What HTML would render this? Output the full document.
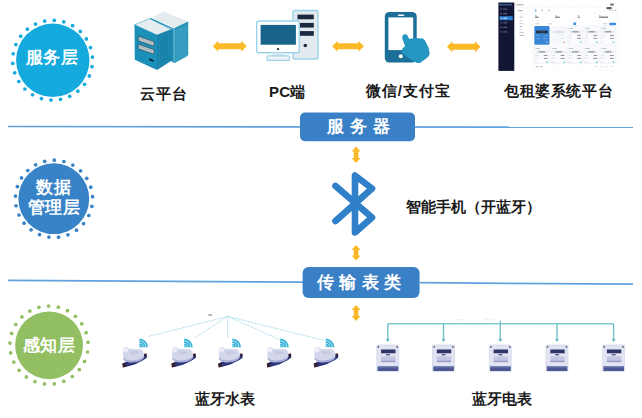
<!DOCTYPE html>
<html><head><meta charset="utf-8"><style>
html,body{margin:0;padding:0;background:#fff;}
body{width:642px;height:418px;position:relative;overflow:hidden;font-family:"Liberation Sans",sans-serif;}
.t{position:absolute;white-space:nowrap;line-height:1;}
.lbl{font-size:15px;font-weight:900;color:#1a1a1a;}
.cw{font-size:17px;font-weight:bold;color:#fff;text-align:center;}
.bx{font-size:17px;font-weight:bold;color:#fff;}
</style></head><body>
<svg width="642" height="418" style="position:absolute;left:0;top:0">
<circle cx="52.8" cy="60.3" r="36.7" fill="#14aade"/><circle cx="92.02" cy="66.66" r="1.85" fill="#14aade"/><circle cx="89.33" cy="75.90" r="1.85" fill="#14aade"/><circle cx="84.51" cy="84.24" r="1.85" fill="#14aade"/><circle cx="77.83" cy="91.18" r="1.85" fill="#14aade"/><circle cx="69.68" cy="96.31" r="1.85" fill="#14aade"/><circle cx="60.54" cy="99.35" r="1.85" fill="#14aade"/><circle cx="50.94" cy="100.12" r="1.85" fill="#14aade"/><circle cx="41.44" cy="98.56" r="1.85" fill="#14aade"/><circle cx="32.58" cy="94.77" r="1.85" fill="#14aade"/><circle cx="24.89" cy="88.98" r="1.85" fill="#14aade"/><circle cx="18.81" cy="81.51" r="1.85" fill="#14aade"/><circle cx="14.69" cy="72.81" r="1.85" fill="#14aade"/><circle cx="12.78" cy="63.37" r="1.85" fill="#14aade"/><circle cx="13.18" cy="53.74" r="1.85" fill="#14aade"/><circle cx="15.87" cy="44.50" r="1.85" fill="#14aade"/><circle cx="20.69" cy="36.16" r="1.85" fill="#14aade"/><circle cx="27.37" cy="29.22" r="1.85" fill="#14aade"/><circle cx="35.52" cy="24.09" r="1.85" fill="#14aade"/><circle cx="44.66" cy="21.05" r="1.85" fill="#14aade"/><circle cx="54.26" cy="20.28" r="1.85" fill="#14aade"/><circle cx="63.76" cy="21.84" r="1.85" fill="#14aade"/><circle cx="72.62" cy="25.63" r="1.85" fill="#14aade"/><circle cx="80.31" cy="31.42" r="1.85" fill="#14aade"/><circle cx="86.39" cy="38.89" r="1.85" fill="#14aade"/><circle cx="90.51" cy="47.59" r="1.85" fill="#14aade"/><circle cx="92.42" cy="57.03" r="1.85" fill="#14aade"/>
<circle cx="53.8" cy="198.7" r="35.4" fill="#3883c7"/><circle cx="91.86" cy="206.30" r="1.85" fill="#3883c7"/><circle cx="88.81" cy="215.48" r="1.85" fill="#3883c7"/><circle cx="83.57" cy="223.61" r="1.85" fill="#3883c7"/><circle cx="76.47" cy="230.19" r="1.85" fill="#3883c7"/><circle cx="67.96" cy="234.79" r="1.85" fill="#3883c7"/><circle cx="58.57" cy="237.13" r="1.85" fill="#3883c7"/><circle cx="48.89" cy="237.06" r="1.85" fill="#3883c7"/><circle cx="39.54" cy="234.59" r="1.85" fill="#3883c7"/><circle cx="31.09" cy="229.87" r="1.85" fill="#3883c7"/><circle cx="24.09" cy="223.20" r="1.85" fill="#3883c7"/><circle cx="18.96" cy="214.99" r="1.85" fill="#3883c7"/><circle cx="16.03" cy="205.77" r="1.85" fill="#3883c7"/><circle cx="15.49" cy="196.11" r="1.85" fill="#3883c7"/><circle cx="17.37" cy="186.62" r="1.85" fill="#3883c7"/><circle cx="21.55" cy="177.89" r="1.85" fill="#3883c7"/><circle cx="27.77" cy="170.48" r="1.85" fill="#3883c7"/><circle cx="35.64" cy="164.85" r="1.85" fill="#3883c7"/><circle cx="44.66" cy="161.35" r="1.85" fill="#3883c7"/><circle cx="54.27" cy="160.20" r="1.85" fill="#3883c7"/><circle cx="63.86" cy="161.48" r="1.85" fill="#3883c7"/><circle cx="72.83" cy="165.11" r="1.85" fill="#3883c7"/><circle cx="80.62" cy="170.85" r="1.85" fill="#3883c7"/><circle cx="86.73" cy="178.35" r="1.85" fill="#3883c7"/><circle cx="90.79" cy="187.13" r="1.85" fill="#3883c7"/><circle cx="92.54" cy="196.65" r="1.85" fill="#3883c7"/>
<circle cx="49.05" cy="345.3" r="33.9" fill="#91bf61"/><circle cx="87.48" cy="352.02" r="1.85" fill="#91bf61"/><circle cx="84.55" cy="361.38" r="1.85" fill="#91bf61"/><circle cx="79.39" cy="369.71" r="1.85" fill="#91bf61"/><circle cx="72.31" cy="376.49" r="1.85" fill="#91bf61"/><circle cx="63.77" cy="381.30" r="1.85" fill="#91bf61"/><circle cx="54.31" cy="383.84" r="1.85" fill="#91bf61"/><circle cx="44.51" cy="383.94" r="1.85" fill="#91bf61"/><circle cx="34.99" cy="381.60" r="1.85" fill="#91bf61"/><circle cx="26.35" cy="376.97" r="1.85" fill="#91bf61"/><circle cx="19.14" cy="370.34" r="1.85" fill="#91bf61"/><circle cx="13.80" cy="362.12" r="1.85" fill="#91bf61"/><circle cx="10.67" cy="352.83" r="1.85" fill="#91bf61"/><circle cx="9.95" cy="343.05" r="1.85" fill="#91bf61"/><circle cx="11.69" cy="333.41" r="1.85" fill="#91bf61"/><circle cx="15.77" cy="324.50" r="1.85" fill="#91bf61"/><circle cx="21.94" cy="316.88" r="1.85" fill="#91bf61"/><circle cx="29.81" cy="311.04" r="1.85" fill="#91bf61"/><circle cx="38.88" cy="307.33" r="1.85" fill="#91bf61"/><circle cx="48.59" cy="306.00" r="1.85" fill="#91bf61"/><circle cx="58.33" cy="307.13" r="1.85" fill="#91bf61"/><circle cx="67.48" cy="310.64" r="1.85" fill="#91bf61"/><circle cx="75.47" cy="316.32" r="1.85" fill="#91bf61"/><circle cx="81.79" cy="323.80" r="1.85" fill="#91bf61"/><circle cx="86.06" cy="332.63" r="1.85" fill="#91bf61"/><circle cx="87.99" cy="342.24" r="1.85" fill="#91bf61"/>
<line x1="8" y1="126.5" x2="633" y2="127.2" stroke="#62a2dc" stroke-width="1.7"/>
<line x1="8" y1="280.3" x2="303" y2="282.2" stroke="#62a2dc" stroke-width="1.7"/>
<line x1="420" y1="282.7" x2="633" y2="284.1" stroke="#62a2dc" stroke-width="1.7"/>
<rect x="300" y="112.5" width="115" height="28.8" rx="5" fill="#3a80c6"/>
<rect x="302.6" y="267" width="117" height="31" rx="6" fill="#3a80c6"/>
<polygon points="212.8,46.3 218.3,40.8 218.3,43.3 241.2,43.3 241.2,40.8 246.7,46.3 241.2,51.8 241.2,49.3 218.3,49.3 218.3,51.8" fill="#fbb928"/>
<polygon points="332.2,46.3 337.7,40.8 337.7,43.3 358.4,43.3 358.4,40.8 363.9,46.3 358.4,51.8 358.4,49.3 337.7,49.3 337.7,51.8" fill="#fbb928"/>
<polygon points="446.9,46.7 452.4,41.2 452.4,43.7 475.0,43.7 475.0,41.2 480.5,46.7 475.0,52.2 475.0,49.7 452.4,49.7 452.4,52.2" fill="#fbb928"/>
<polygon points="356.1,146.5 360.6,151.5 358.40000000000003,151.5 358.40000000000003,158 360.6,158 356.1,163 351.6,158 353.8,158 353.8,151.5 351.6,151.5" fill="#fbb928"/>
<polygon points="356.1,245 360.6,250 358.40000000000003,250 358.40000000000003,255.5 360.6,255.5 356.1,260.5 351.6,255.5 353.8,255.5 353.8,250 351.6,250" fill="#fbb928"/>
<polygon points="356.1,305 360.6,310 358.40000000000003,310 358.40000000000003,316 360.6,316 356.1,321 351.6,316 353.8,316 353.8,310 351.6,310" fill="#fbb928"/>
<polyline points="335.5,221 372,188.5 355,175.5 355,232.5 372,217.5 335.5,186" fill="none" stroke="#2f7fc9" stroke-width="6.6" stroke-linecap="round" stroke-linejoin="round"/>

<polygon points="151.6,18 163.1,11.6 188.2,21.6 174.5,28.1" fill="#e3ebee"/>
<polygon points="174.5,28.1 188.2,21.6 188.2,55.3 174.5,63.2" fill="#2291b6"/>
<line x1="175.5" y1="30.50" x2="187.5" y2="24.90" stroke="#5fb5d2" stroke-width="0.5"/>
<line x1="175.5" y1="32.00" x2="187.5" y2="26.40" stroke="#5fb5d2" stroke-width="0.5"/>
<line x1="175.5" y1="33.50" x2="187.5" y2="27.90" stroke="#5fb5d2" stroke-width="0.5"/>
<line x1="175.5" y1="35.00" x2="187.5" y2="29.40" stroke="#5fb5d2" stroke-width="0.5"/>
<line x1="175.5" y1="36.50" x2="187.5" y2="30.90" stroke="#5fb5d2" stroke-width="0.5"/>
<line x1="175.5" y1="38.00" x2="187.5" y2="32.40" stroke="#5fb5d2" stroke-width="0.5"/>
<line x1="175.5" y1="39.50" x2="187.5" y2="33.90" stroke="#5fb5d2" stroke-width="0.5"/>
<line x1="175.5" y1="41.00" x2="187.5" y2="35.40" stroke="#5fb5d2" stroke-width="0.5"/>
<line x1="175.5" y1="42.50" x2="187.5" y2="36.90" stroke="#5fb5d2" stroke-width="0.5"/>
<line x1="175.5" y1="44.00" x2="187.5" y2="38.40" stroke="#5fb5d2" stroke-width="0.5"/>
<line x1="175.5" y1="45.50" x2="187.5" y2="39.90" stroke="#5fb5d2" stroke-width="0.5"/>
<line x1="175.5" y1="47.00" x2="187.5" y2="41.40" stroke="#5fb5d2" stroke-width="0.5"/>
<line x1="175.5" y1="48.50" x2="187.5" y2="42.90" stroke="#5fb5d2" stroke-width="0.5"/>
<line x1="175.5" y1="50.00" x2="187.5" y2="44.40" stroke="#5fb5d2" stroke-width="0.5"/>
<line x1="175.5" y1="51.50" x2="187.5" y2="45.90" stroke="#5fb5d2" stroke-width="0.5"/>
<line x1="175.5" y1="53.00" x2="187.5" y2="47.40" stroke="#5fb5d2" stroke-width="0.5"/>
<line x1="175.5" y1="54.50" x2="187.5" y2="48.90" stroke="#5fb5d2" stroke-width="0.5"/>
<line x1="175.5" y1="56.00" x2="187.5" y2="50.40" stroke="#5fb5d2" stroke-width="0.5"/>
<line x1="175.5" y1="57.50" x2="187.5" y2="51.90" stroke="#5fb5d2" stroke-width="0.5"/>
<line x1="175.5" y1="59.00" x2="187.5" y2="53.40" stroke="#5fb5d2" stroke-width="0.5"/>
<line x1="175.5" y1="60.50" x2="187.5" y2="54.90" stroke="#5fb5d2" stroke-width="0.5"/>
<line x1="175.5" y1="62.00" x2="187.5" y2="56.40" stroke="#5fb5d2" stroke-width="0.5"/>
<polygon points="171,29.5 174.5,28.1 174.5,63.2 171,61" fill="#1c89b0"/>
<line x1="173.8" y1="28.5" x2="173.8" y2="62.8" stroke="#7cc4dc" stroke-width="0.6"/>
<polygon points="134.5,24.8 150,18.4 171,29.5 157,35" fill="#e6edf0" stroke="#2a8fb3" stroke-width="0.5"/>
<polygon points="134.5,24.8 157,35 157,70 134.8,59.8" fill="#1a8fb8"/>
<polygon points="157,35 171,29.5 171,61 157,70" fill="#1783aa"/>
<polygon points="159,37.5 169,33.5 169,59.5 159,66" fill="none" stroke="#2a95bb" stroke-width="0.5"/>
<line x1="150.5" y1="18.6" x2="173" y2="28.9" stroke="#2592b8" stroke-width="1.3"/>
<polygon points="138.3,36.2 154,41.6 154,46.2 138.3,40.8" fill="#b9c6cc" stroke="#3a5866" stroke-width="0.8"/><line x1="140" y1="38.6" x2="152.5" y2="43" stroke="#6d8490" stroke-width="0.5" stroke-dasharray="1 0.7"/>
<polygon points="138.3,44.2 154,49.6 154,54.2 138.3,48.8" fill="#b9c6cc" stroke="#3a5866" stroke-width="0.8"/><line x1="140" y1="46.6" x2="152.5" y2="51" stroke="#6d8490" stroke-width="0.5" stroke-dasharray="1 0.7"/>
<polygon points="149.2,58.2 153.7,60 153.7,62 149.2,60.2" fill="#0a2634"/>


<rect x="293" y="10.5" width="25" height="48.5" rx="2" fill="#e2e9ef" stroke="#9bd4ea" stroke-width="1.4"/>
<rect x="297.5" y="14.6" width="16.3" height="4.7" fill="#1b2a40"/>
<rect x="299.8" y="22.9" width="14" height="4.7" fill="#1b2a40"/>
<rect x="299.8" y="31.1" width="14" height="4.7" fill="#1b2a40"/>
<circle cx="305.3" cy="45.5" r="1.8" fill="#1b2a40"/>
<rect x="256.7" y="21" width="42.5" height="31.8" rx="2" fill="#fff" stroke="#9bd4ea" stroke-width="1.4"/>
<rect x="260.6" y="24.9" width="35.3" height="19.8" fill="#17638a"/>
<circle cx="278" cy="49.2" r="1.1" fill="#1b2a40"/>
<rect x="272" y="52.8" width="12" height="3.5" fill="#dfe7ee"/>
<rect x="267" y="55.8" width="22.5" height="4.6" rx="1" fill="#eef3f6" stroke="#9bd4ea" stroke-width="1.2"/>


<rect x="384.8" y="12" width="31.9" height="50.5" rx="4.5" fill="#1c6f98"/>
<rect x="388.4" y="17.4" width="24.8" height="32.7" fill="#fff"/>
<rect x="397.8" y="14.5" width="6.4" height="1.6" rx="0.8" fill="#fff"/>
<circle cx="400.8" cy="56.2" r="2" fill="#fff"/>
<path d="M404.6,34.2 C402,34.5 401.8,38 402.8,40 L405.1,46.2 C403,47 401.5,49.5 401.6,51.6 C402,53.5 403,54.5 403.7,54.4 L409.6,58.9 L416.9,63 L420,63 L426.9,58 C428.5,56.5 429.8,55 429.6,53 L428.7,48 L425.1,40.7 C424,39 423,38.5 422.4,38.5 L414.2,38 L409.2,38.9 L407.4,35.3 C406.5,34.3 405.5,34 404.6,34.2 Z" fill="#2596c0"/>

<line x1="387.8" y1="323.8" x2="613.6" y2="323.8" stroke="#7fc9cf" stroke-width="1.5"/>
<line x1="392" y1="327.3" x2="612" y2="327.3" stroke="#dfe3e6" stroke-width="0.6" stroke-dasharray="0.8 5"/>
<rect x="455" y="319.5" width="8" height="0.7" fill="#e4e8ea"/><rect x="484" y="319.5" width="10" height="0.7" fill="#e4e8ea"/>
<line x1="387.8" y1="323.8" x2="387.8" y2="340" stroke="#6fbfc8" stroke-width="1.4"/>
<polygon points="385.90000000000003,339 389.7,339 387.8,342" fill="#5fb3be"/>
<rect x="376.8" y="345" width="22" height="26" rx="0.8" fill="#e2e4f3" stroke="#cdd0e6" stroke-width="0.6"/>
<circle cx="378.40000000000003" cy="346.9" r="0.9" fill="#555a70"/><circle cx="397.2" cy="346.9" r="0.9" fill="#555a70"/>
<rect x="381.1" y="349.5" width="14.4" height="3.8" fill="#2b3568"/>
<rect x="386.0" y="354" width="3.8" height="1.4" fill="#565d88"/>
<rect x="381.1" y="356.4" width="14.4" height="6" fill="#c3c6e0"/>
<rect x="381.1" y="360.8" width="14.4" height="0.8" fill="#7d83b0"/>
<rect x="377.6" y="366.3" width="20.6" height="4.8" fill="#4d5894"/>
<rect x="378.3" y="367.3" width="19" height="0.6" fill="#7a84b8" opacity="0.7"/>
<line x1="443.5" y1="323.8" x2="443.5" y2="340" stroke="#6fbfc8" stroke-width="1.4"/>
<polygon points="441.6,339 445.4,339 443.5,342" fill="#5fb3be"/>
<rect x="432.5" y="345" width="22" height="26" rx="0.8" fill="#e2e4f3" stroke="#cdd0e6" stroke-width="0.6"/>
<circle cx="434.1" cy="346.9" r="0.9" fill="#555a70"/><circle cx="452.9" cy="346.9" r="0.9" fill="#555a70"/>
<rect x="436.8" y="349.5" width="14.4" height="3.8" fill="#2b3568"/>
<rect x="441.7" y="354" width="3.8" height="1.4" fill="#565d88"/>
<rect x="436.8" y="356.4" width="14.4" height="6" fill="#c3c6e0"/>
<rect x="436.8" y="360.8" width="14.4" height="0.8" fill="#7d83b0"/>
<rect x="433.3" y="366.3" width="20.6" height="4.8" fill="#4d5894"/>
<rect x="434.0" y="367.3" width="19" height="0.6" fill="#7a84b8" opacity="0.7"/>
<line x1="500.3" y1="323.8" x2="500.3" y2="340" stroke="#6fbfc8" stroke-width="1.4"/>
<polygon points="498.40000000000003,339 502.2,339 500.3,342" fill="#5fb3be"/>
<rect x="489.3" y="345" width="22" height="26" rx="0.8" fill="#e2e4f3" stroke="#cdd0e6" stroke-width="0.6"/>
<circle cx="490.90000000000003" cy="346.9" r="0.9" fill="#555a70"/><circle cx="509.7" cy="346.9" r="0.9" fill="#555a70"/>
<rect x="493.6" y="349.5" width="14.4" height="3.8" fill="#2b3568"/>
<rect x="498.5" y="354" width="3.8" height="1.4" fill="#565d88"/>
<rect x="493.6" y="356.4" width="14.4" height="6" fill="#c3c6e0"/>
<rect x="493.6" y="360.8" width="14.4" height="0.8" fill="#7d83b0"/>
<rect x="490.1" y="366.3" width="20.6" height="4.8" fill="#4d5894"/>
<rect x="490.8" y="367.3" width="19" height="0.6" fill="#7a84b8" opacity="0.7"/>
<line x1="557" y1="323.8" x2="557" y2="340" stroke="#6fbfc8" stroke-width="1.4"/>
<polygon points="555.1,339 558.9,339 557,342" fill="#5fb3be"/>
<rect x="546" y="345" width="22" height="26" rx="0.8" fill="#e2e4f3" stroke="#cdd0e6" stroke-width="0.6"/>
<circle cx="547.6" cy="346.9" r="0.9" fill="#555a70"/><circle cx="566.4" cy="346.9" r="0.9" fill="#555a70"/>
<rect x="550.3" y="349.5" width="14.4" height="3.8" fill="#2b3568"/>
<rect x="555.2" y="354" width="3.8" height="1.4" fill="#565d88"/>
<rect x="550.3" y="356.4" width="14.4" height="6" fill="#c3c6e0"/>
<rect x="550.3" y="360.8" width="14.4" height="0.8" fill="#7d83b0"/>
<rect x="546.8" y="366.3" width="20.6" height="4.8" fill="#4d5894"/>
<rect x="547.5" y="367.3" width="19" height="0.6" fill="#7a84b8" opacity="0.7"/>
<line x1="613.6" y1="323.8" x2="613.6" y2="340" stroke="#6fbfc8" stroke-width="1.4"/>
<polygon points="611.7,339 615.5,339 613.6,342" fill="#5fb3be"/>
<rect x="602.6" y="345" width="22" height="26" rx="0.8" fill="#e2e4f3" stroke="#cdd0e6" stroke-width="0.6"/>
<circle cx="604.2" cy="346.9" r="0.9" fill="#555a70"/><circle cx="623.0" cy="346.9" r="0.9" fill="#555a70"/>
<rect x="606.9" y="349.5" width="14.4" height="3.8" fill="#2b3568"/>
<rect x="611.8000000000001" y="354" width="3.8" height="1.4" fill="#565d88"/>
<rect x="606.9" y="356.4" width="14.4" height="6" fill="#c3c6e0"/>
<rect x="606.9" y="360.8" width="14.4" height="0.8" fill="#7d83b0"/>
<rect x="603.4" y="366.3" width="20.6" height="4.8" fill="#4d5894"/>
<rect x="604.1" y="367.3" width="19" height="0.6" fill="#7a84b8" opacity="0.7"/>
<line x1="500.3" y1="320.3" x2="500.3" y2="323.8" stroke="#7fc9cf" stroke-width="1.3"/>
<line x1="227.6" y1="316.4" x2="148.6" y2="336.5" stroke="#8fd3e3" stroke-width="0.85" stroke-dasharray="0.9 0.6"/>
<line x1="227.6" y1="316.4" x2="194.2" y2="338.2" stroke="#8fd3e3" stroke-width="0.85" stroke-dasharray="0.9 0.6"/>
<line x1="227.6" y1="316.4" x2="227.6" y2="338.5" stroke="#8fd3e3" stroke-width="0.85" stroke-dasharray="0.9 0.6"/>
<line x1="227.6" y1="316.4" x2="279.6" y2="339.6" stroke="#8fd3e3" stroke-width="0.85" stroke-dasharray="0.9 0.6"/>
<line x1="227.6" y1="316.4" x2="323.8" y2="340.3" stroke="#8fd3e3" stroke-width="0.85" stroke-dasharray="0.9 0.6"/>
<rect x="208.4" y="314.5" width="3.3" height="1" fill="#666"/>
<path d="M139.3,338.59999999999997 A8.6,8.6 0 0 1 147.9,347.2 L146.0,347.2 A6.7,6.7 0 0 0 139.3,340.5 Z" fill="#3db5d6"/><path d="M139.3,341.0 A6.2,6.2 0 0 1 145.5,347.2 L143.60000000000002,347.2 A4.3,4.3 0 0 0 139.3,342.9 Z" fill="#3db5d6"/><path d="M139.3,343.4 A3.8,3.8 0 0 1 143.10000000000002,347.2 L141.20000000000002,347.2 A1.9,1.9 0 0 0 139.3,345.3 Z" fill="#3db5d6"/><path d="M139.3,345.59999999999997 A1.6,1.6 0 0 1 140.9,347.2 L139.3,347.2 Z" fill="#3db5d6"/>
<g transform="translate(122.6,347)">
<path d="M0,16.8 L3,15 L10,13.6 L21,9.6 L24,8.4 L24.4,10.5 L21,13 L12,17.5 L3,20 L0.5,20.2Z" fill="#2b367c"/>
<path d="M-0.3,16.4 L3.1,15.6 L3.6,19.6 L0.2,20.4Z" fill="#3c2030"/>
<path d="M21.1,7 L23.8,6.2 L24.4,9 L21.7,9.8Z" fill="#3c2030"/>
<path d="M0.4,4 C0.4,1.5 2,0 3.5,0 C5,0 6,1 6.5,2 L17,2.2 C19.5,2.4 21,3.8 21,6 L21,11.2 C19,13.5 15,15 10,15.3 C5,15.5 2,14.5 0.6,12Z" fill="#d3d6ea"/>
<path d="M0.6,12 C2,14.5 5,15.5 10,15.3 C15,15 19,13.5 21,11.2 L21,9.6 C19,11.9 15,13.3 10,13.6 C5,13.8 2,12.9 0.6,10.6Z" fill="#a6abd4"/>
<ellipse cx="2.9" cy="2.7" rx="2.6" ry="2.5" fill="#eceef7"/>
<path d="M6,4.6 L14.5,4 L17.5,6.2 L9,7.4Z" fill="#c6cadf"/>
</g>
<path d="M184.1,338.59999999999997 A8.6,8.6 0 0 1 192.7,347.2 L190.79999999999998,347.2 A6.7,6.7 0 0 0 184.1,340.5 Z" fill="#3db5d6"/><path d="M184.1,341.0 A6.2,6.2 0 0 1 190.29999999999998,347.2 L188.4,347.2 A4.3,4.3 0 0 0 184.1,342.9 Z" fill="#3db5d6"/><path d="M184.1,343.4 A3.8,3.8 0 0 1 187.9,347.2 L186.0,347.2 A1.9,1.9 0 0 0 184.1,345.3 Z" fill="#3db5d6"/><path d="M184.1,345.59999999999997 A1.6,1.6 0 0 1 185.7,347.2 L184.1,347.2 Z" fill="#3db5d6"/>
<g transform="translate(171.7,347)">
<path d="M0,16.8 L3,15 L10,13.6 L21,9.6 L24,8.4 L24.4,10.5 L21,13 L12,17.5 L3,20 L0.5,20.2Z" fill="#2b367c"/>
<path d="M-0.3,16.4 L3.1,15.6 L3.6,19.6 L0.2,20.4Z" fill="#3c2030"/>
<path d="M21.1,7 L23.8,6.2 L24.4,9 L21.7,9.8Z" fill="#3c2030"/>
<path d="M0.4,4 C0.4,1.5 2,0 3.5,0 C5,0 6,1 6.5,2 L17,2.2 C19.5,2.4 21,3.8 21,6 L21,11.2 C19,13.5 15,15 10,15.3 C5,15.5 2,14.5 0.6,12Z" fill="#d3d6ea"/>
<path d="M0.6,12 C2,14.5 5,15.5 10,15.3 C15,15 19,13.5 21,11.2 L21,9.6 C19,11.9 15,13.3 10,13.6 C5,13.8 2,12.9 0.6,10.6Z" fill="#a6abd4"/>
<ellipse cx="2.9" cy="2.7" rx="2.6" ry="2.5" fill="#eceef7"/>
<path d="M6,4.6 L14.5,4 L17.5,6.2 L9,7.4Z" fill="#c6cadf"/>
</g>
<path d="M232.3,338.59999999999997 A8.6,8.6 0 0 1 240.9,347.2 L239.0,347.2 A6.7,6.7 0 0 0 232.3,340.5 Z" fill="#3db5d6"/><path d="M232.3,341.0 A6.2,6.2 0 0 1 238.5,347.2 L236.60000000000002,347.2 A4.3,4.3 0 0 0 232.3,342.9 Z" fill="#3db5d6"/><path d="M232.3,343.4 A3.8,3.8 0 0 1 236.10000000000002,347.2 L234.20000000000002,347.2 A1.9,1.9 0 0 0 232.3,345.3 Z" fill="#3db5d6"/><path d="M232.3,345.59999999999997 A1.6,1.6 0 0 1 233.9,347.2 L232.3,347.2 Z" fill="#3db5d6"/>
<g transform="translate(218.4,347)">
<path d="M0,16.8 L3,15 L10,13.6 L21,9.6 L24,8.4 L24.4,10.5 L21,13 L12,17.5 L3,20 L0.5,20.2Z" fill="#2b367c"/>
<path d="M-0.3,16.4 L3.1,15.6 L3.6,19.6 L0.2,20.4Z" fill="#3c2030"/>
<path d="M21.1,7 L23.8,6.2 L24.4,9 L21.7,9.8Z" fill="#3c2030"/>
<path d="M0.4,4 C0.4,1.5 2,0 3.5,0 C5,0 6,1 6.5,2 L17,2.2 C19.5,2.4 21,3.8 21,6 L21,11.2 C19,13.5 15,15 10,15.3 C5,15.5 2,14.5 0.6,12Z" fill="#d3d6ea"/>
<path d="M0.6,12 C2,14.5 5,15.5 10,15.3 C15,15 19,13.5 21,11.2 L21,9.6 C19,11.9 15,13.3 10,13.6 C5,13.8 2,12.9 0.6,10.6Z" fill="#a6abd4"/>
<ellipse cx="2.9" cy="2.7" rx="2.6" ry="2.5" fill="#eceef7"/>
<path d="M6,4.6 L14.5,4 L17.5,6.2 L9,7.4Z" fill="#c6cadf"/>
</g>
<path d="M280.1,338.59999999999997 A8.6,8.6 0 0 1 288.70000000000005,347.2 L286.8,347.2 A6.7,6.7 0 0 0 280.1,340.5 Z" fill="#3db5d6"/><path d="M280.1,341.0 A6.2,6.2 0 0 1 286.3,347.2 L284.40000000000003,347.2 A4.3,4.3 0 0 0 280.1,342.9 Z" fill="#3db5d6"/><path d="M280.1,343.4 A3.8,3.8 0 0 1 283.90000000000003,347.2 L282.0,347.2 A1.9,1.9 0 0 0 280.1,345.3 Z" fill="#3db5d6"/><path d="M280.1,345.59999999999997 A1.6,1.6 0 0 1 281.70000000000005,347.2 L280.1,347.2 Z" fill="#3db5d6"/>
<g transform="translate(267,347)">
<path d="M0,16.8 L3,15 L10,13.6 L21,9.6 L24,8.4 L24.4,10.5 L21,13 L12,17.5 L3,20 L0.5,20.2Z" fill="#2b367c"/>
<path d="M-0.3,16.4 L3.1,15.6 L3.6,19.6 L0.2,20.4Z" fill="#3c2030"/>
<path d="M21.1,7 L23.8,6.2 L24.4,9 L21.7,9.8Z" fill="#3c2030"/>
<path d="M0.4,4 C0.4,1.5 2,0 3.5,0 C5,0 6,1 6.5,2 L17,2.2 C19.5,2.4 21,3.8 21,6 L21,11.2 C19,13.5 15,15 10,15.3 C5,15.5 2,14.5 0.6,12Z" fill="#d3d6ea"/>
<path d="M0.6,12 C2,14.5 5,15.5 10,15.3 C15,15 19,13.5 21,11.2 L21,9.6 C19,11.9 15,13.3 10,13.6 C5,13.8 2,12.9 0.6,10.6Z" fill="#a6abd4"/>
<ellipse cx="2.9" cy="2.7" rx="2.6" ry="2.5" fill="#eceef7"/>
<path d="M6,4.6 L14.5,4 L17.5,6.2 L9,7.4Z" fill="#c6cadf"/>
</g>
<path d="M325.7,338.59999999999997 A8.6,8.6 0 0 1 334.3,347.2 L332.4,347.2 A6.7,6.7 0 0 0 325.7,340.5 Z" fill="#3db5d6"/><path d="M325.7,341.0 A6.2,6.2 0 0 1 331.9,347.2 L330.0,347.2 A4.3,4.3 0 0 0 325.7,342.9 Z" fill="#3db5d6"/><path d="M325.7,343.4 A3.8,3.8 0 0 1 329.5,347.2 L327.59999999999997,347.2 A1.9,1.9 0 0 0 325.7,345.3 Z" fill="#3db5d6"/><path d="M325.7,345.59999999999997 A1.6,1.6 0 0 1 327.3,347.2 L325.7,347.2 Z" fill="#3db5d6"/>
<g transform="translate(314,347)">
<path d="M0,16.8 L3,15 L10,13.6 L21,9.6 L24,8.4 L24.4,10.5 L21,13 L12,17.5 L3,20 L0.5,20.2Z" fill="#2b367c"/>
<path d="M-0.3,16.4 L3.1,15.6 L3.6,19.6 L0.2,20.4Z" fill="#3c2030"/>
<path d="M21.1,7 L23.8,6.2 L24.4,9 L21.7,9.8Z" fill="#3c2030"/>
<path d="M0.4,4 C0.4,1.5 2,0 3.5,0 C5,0 6,1 6.5,2 L17,2.2 C19.5,2.4 21,3.8 21,6 L21,11.2 C19,13.5 15,15 10,15.3 C5,15.5 2,14.5 0.6,12Z" fill="#d3d6ea"/>
<path d="M0.6,12 C2,14.5 5,15.5 10,15.3 C15,15 19,13.5 21,11.2 L21,9.6 C19,11.9 15,13.3 10,13.6 C5,13.8 2,12.9 0.6,10.6Z" fill="#a6abd4"/>
<ellipse cx="2.9" cy="2.7" rx="2.6" ry="2.5" fill="#eceef7"/>
<path d="M6,4.6 L14.5,4 L17.5,6.2 L9,7.4Z" fill="#c6cadf"/>
</g>
<rect x="498.40" y="2.50" width="15.90" height="68.40" fill="#121632" opacity="1" rx="0"/>
<rect x="499.00" y="3.80" width="13.00" height="1.80" fill="#3e5f9e" opacity="0.8" rx="0"/>
<rect x="500.60" y="8.50" width="1.20" height="1.20" fill="#7c84a4" opacity="0.9" rx="0"/>
<rect x="503.20" y="8.60" width="4.00" height="1.00" fill="#7c84a4" opacity="0.8" rx="0"/>
<rect x="500.60" y="13.10" width="1.20" height="1.20" fill="#7c84a4" opacity="0.9" rx="0"/>
<rect x="503.20" y="13.20" width="4.00" height="1.00" fill="#7c84a4" opacity="0.8" rx="0"/>
<rect x="500.60" y="22.20" width="1.20" height="1.20" fill="#7c84a4" opacity="0.9" rx="0"/>
<rect x="503.20" y="22.30" width="4.00" height="1.00" fill="#7c84a4" opacity="0.8" rx="0"/>
<rect x="500.60" y="26.70" width="1.20" height="1.20" fill="#7c84a4" opacity="0.9" rx="0"/>
<rect x="503.20" y="26.80" width="4.00" height="1.00" fill="#7c84a4" opacity="0.8" rx="0"/>
<rect x="500.60" y="31.30" width="1.20" height="1.20" fill="#7c84a4" opacity="0.9" rx="0"/>
<rect x="503.20" y="31.40" width="4.00" height="1.00" fill="#7c84a4" opacity="0.8" rx="0"/>
<rect x="499.60" y="16.20" width="13.10" height="4.00" fill="#2f7fd6" opacity="1" rx="0"/>
<rect x="500.60" y="17.60" width="1.20" height="1.20" fill="#cfe0f8" opacity="1" rx="0"/>
<rect x="503.20" y="17.70" width="4.00" height="1.00" fill="#cfe0f8" opacity="1" rx="0"/>
<rect x="516.50" y="4.20" width="7.00" height="1.10" fill="#9a9a9a" opacity="0.8" rx="0"/>
<rect x="515.30" y="4.20" width="0.80" height="1.10" fill="#bbb" opacity="1" rx="0"/>
<line x1="515" y1="7.5" x2="618" y2="7.4" stroke="#d8dce6" stroke-width="0.5" stroke-dasharray="0.8 1.6"/>
<rect x="517.80" y="10.10" width="5.00" height="1.10" fill="#9a9a9a" opacity="0.8" rx="0"/>
<line x1="517.5" y1="14.2" x2="529" y2="14.2" stroke="#c9d4ea" stroke-width="0.5" stroke-dasharray="0.8 1.6"/>
<rect x="519.50" y="16.70" width="3.50" height="1.00" fill="#aaa" opacity="0.8" rx="0"/>
<rect x="519.50" y="20.20" width="2.50" height="1.00" fill="#bbb" opacity="0.8" rx="0"/>
<rect x="519.50" y="23.10" width="3.00" height="1.00" fill="#bbb" opacity="0.8" rx="0"/>
<rect x="519.50" y="26.10" width="2.00" height="1.00" fill="#4a90e0" opacity="0.8" rx="0"/>
<rect x="519.50" y="29.30" width="2.00" height="1.00" fill="#bbb" opacity="0.8" rx="0"/>
<rect x="519.50" y="32.00" width="4.50" height="1.00" fill="#bbb" opacity="0.8" rx="0"/>
<rect x="519.50" y="35.00" width="4.50" height="1.00" fill="#aaa" opacity="0.8" rx="0"/>
<line x1="532.5" y1="8" x2="532.5" y2="70" stroke="#dde1ea" stroke-width="0.5" stroke-dasharray="0.8 1.6"/>
<line x1="532.5" y1="70.3" x2="618" y2="70.3" stroke="#dde1ea" stroke-width="0.5" stroke-dasharray="0.8 1.6"/>
<line x1="617.8" y1="8" x2="617.8" y2="70" stroke="#dde1ea" stroke-width="0.5" stroke-dasharray="0.8 1.6"/>
<line x1="533" y1="13" x2="618" y2="13" stroke="#e3e6ee" stroke-width="0.5" stroke-dasharray="0.8 1.6"/>
<line x1="533" y1="20.7" x2="618" y2="20.7" stroke="#e3e6ee" stroke-width="0.5" stroke-dasharray="0.8 1.6"/>
<rect x="534.80" y="9.30" width="1.60" height="2.40" fill="#7fb0e8" opacity="0.9" rx="0"/>
<rect x="541.20" y="9.50" width="1.60" height="1.80" fill="#aaa" opacity="0.7" rx="0"/>
<rect x="548.30" y="9.50" width="1.60" height="1.80" fill="#aaa" opacity="0.7" rx="0"/>
<rect x="535.00" y="15.20" width="1.40" height="0.60" fill="#1f9e60" opacity="0.7" rx="0"/>
<rect x="535.00" y="16.60" width="3.50" height="1.20" fill="#555" opacity="0.85" rx="0"/>
<rect x="555.00" y="15.20" width="1.40" height="0.60" fill="#d04040" opacity="0.7" rx="0"/>
<rect x="555.00" y="16.60" width="4.60" height="1.20" fill="#555" opacity="0.85" rx="0"/>
<rect x="577.80" y="15.20" width="1.40" height="0.60" fill="#d04040" opacity="0.7" rx="0"/>
<rect x="577.80" y="16.60" width="2.00" height="1.20" fill="#555" opacity="0.85" rx="0"/>
<rect x="599.00" y="15.20" width="1.40" height="0.60" fill="#3a7fd0" opacity="0.7" rx="0"/>
<rect x="599.00" y="16.60" width="9.00" height="1.20" fill="#555" opacity="0.85" rx="0"/>
<rect x="535.50" y="23.40" width="4.00" height="0.90" fill="#aaa" opacity="0.7" rx="0"/>
<rect x="548.60" y="23.40" width="3.00" height="0.90" fill="#aaa" opacity="0.7" rx="0"/>
<circle cx="574.7" cy="23.8" r="1.5" fill="#3b8ae0"/>
<rect x="603.00" y="23.20" width="4.00" height="1.20" fill="#b8cde8" opacity="0.8" rx="0"/>
<rect x="609.20" y="22.80" width="7.00" height="2.50" fill="#3a8ae0" opacity="1" rx="1.2"/>
<rect x="610.20" y="3.50" width="3.50" height="2.10" fill="#555" opacity="0.8" rx="0"/>
<rect x="606.60" y="7.10" width="5.00" height="2.00" fill="#333" opacity="0.85" rx="0"/>
<rect x="609.40" y="9.60" width="1.00" height="1.20" fill="#6aa0e0" opacity="1" rx="0"/>
<rect x="612.40" y="9.60" width="1.00" height="1.20" fill="#999" opacity="1" rx="0"/>
<rect x="615.20" y="9.60" width="1.00" height="1.20" fill="#999" opacity="1" rx="0"/>
<rect x="534.30" y="26.10" width="15.20" height="18.60" fill="#3a86d6" opacity="1" rx="1"/>
<rect x="536.30" y="30.70" width="11.20" height="2.50" fill="#1b1f2c" opacity="1" rx="0"/>
<rect x="538.30" y="31.50" width="7.20" height="0.90" fill="#888" opacity="0.6" rx="0"/>
<rect x="535.80" y="35.10" width="4.00" height="0.80" fill="#8fbdf0" opacity="0.6" rx="0"/>
<rect x="543.30" y="35.10" width="4.00" height="0.80" fill="#8fbdf0" opacity="0.6" rx="0"/>
<rect x="535.80" y="38.10" width="4.00" height="0.80" fill="#8fbdf0" opacity="0.6" rx="0"/>
<rect x="543.30" y="38.10" width="4.00" height="0.80" fill="#8fbdf0" opacity="0.6" rx="0"/>
<rect x="545.80" y="41.60" width="2.00" height="0.80" fill="#e0ecff" opacity="0.8" rx="0"/>
<rect x="551.20" y="26.10" width="15.20" height="18.60" fill="#f6f7fa" opacity="1" rx="0.5"/>
<rect x="552.70" y="30.70" width="12.20" height="2.50" fill="#e6e9f1" opacity="1" rx="0"/>
<rect x="555.20" y="31.50" width="7.20" height="0.90" fill="#cfd4e2" opacity="1" rx="0"/>
<rect x="560.20" y="35.10" width="4.00" height="0.80" fill="#dde" opacity="0.8" rx="0"/>
<rect x="560.20" y="38.10" width="4.00" height="0.80" fill="#dde" opacity="0.8" rx="0"/>
<rect x="563.20" y="41.90" width="2.00" height="1.00" fill="#f08a6a" opacity="0.8" rx="0"/>
<rect x="567.70" y="26.10" width="15.20" height="18.60" fill="#fafbfd" stroke="#e6e9f0" stroke-width="0.5" rx="0.6"/>
<rect x="568.70" y="27.90" width="2.50" height="0.90" fill="#aaa" opacity="0.7" rx="0"/>
<rect x="571.70" y="27.90" width="1.20" height="1.00" fill="#4a90e0" opacity="0.8" rx="0"/>
<rect x="569.20" y="30.50" width="12.20" height="2.60" fill="#e7eaf2" opacity="1" rx="0"/>
<rect x="572.20" y="31.30" width="6.20" height="1.00" fill="#555" opacity="0.7" rx="0"/>
<rect x="568.70" y="34.90" width="3.00" height="0.70" fill="#bbb" opacity="0.6" rx="0"/>
<rect x="577.20" y="34.90" width="3.80" height="0.90" fill="#555" opacity="0.7" rx="0"/>
<rect x="568.70" y="37.60" width="3.00" height="0.70" fill="#bbb" opacity="0.6" rx="0"/>
<rect x="577.20" y="37.80" width="3.80" height="0.90" fill="#555" opacity="0.7" rx="0"/>
<rect x="568.70" y="41.70" width="1.50" height="0.80" fill="#bbb" opacity="0.6" rx="0"/>
<rect x="579.70" y="41.60" width="1.80" height="1.20" fill="#3cc1a0" opacity="0.8" rx="0"/>
<rect x="584.00" y="26.10" width="15.20" height="18.60" fill="#fafbfd" stroke="#e6e9f0" stroke-width="0.5" rx="0.6"/>
<rect x="585.00" y="27.90" width="2.50" height="0.90" fill="#aaa" opacity="0.7" rx="0"/>
<rect x="588.00" y="27.90" width="1.20" height="1.00" fill="#4a90e0" opacity="0.8" rx="0"/>
<rect x="585.50" y="30.50" width="12.20" height="2.60" fill="#e7eaf2" opacity="1" rx="0"/>
<rect x="588.50" y="31.30" width="6.20" height="1.00" fill="#555" opacity="0.7" rx="0"/>
<rect x="585.00" y="34.90" width="3.00" height="0.70" fill="#bbb" opacity="0.6" rx="0"/>
<rect x="593.50" y="34.90" width="3.80" height="0.90" fill="#555" opacity="0.7" rx="0"/>
<rect x="585.00" y="37.60" width="3.00" height="0.70" fill="#bbb" opacity="0.6" rx="0"/>
<rect x="593.50" y="37.80" width="3.80" height="0.90" fill="#555" opacity="0.7" rx="0"/>
<rect x="585.00" y="41.70" width="1.50" height="0.80" fill="#bbb" opacity="0.6" rx="0"/>
<rect x="596.00" y="41.60" width="1.80" height="1.20" fill="#3cc1a0" opacity="0.8" rx="0"/>
<rect x="600.50" y="26.10" width="15.20" height="18.60" fill="#fafbfd" stroke="#e6e9f0" stroke-width="0.5" rx="0.6"/>
<rect x="601.50" y="27.90" width="2.50" height="0.90" fill="#aaa" opacity="0.7" rx="0"/>
<rect x="604.50" y="27.90" width="1.20" height="1.00" fill="#4a90e0" opacity="0.8" rx="0"/>
<rect x="602.00" y="30.50" width="12.20" height="2.60" fill="#e7eaf2" opacity="1" rx="0"/>
<rect x="605.00" y="31.30" width="6.20" height="1.00" fill="#555" opacity="0.7" rx="0"/>
<rect x="601.50" y="34.90" width="3.00" height="0.70" fill="#bbb" opacity="0.6" rx="0"/>
<rect x="610.00" y="34.90" width="3.80" height="0.90" fill="#555" opacity="0.7" rx="0"/>
<rect x="601.50" y="37.60" width="3.00" height="0.70" fill="#bbb" opacity="0.6" rx="0"/>
<rect x="610.00" y="37.80" width="3.80" height="0.90" fill="#555" opacity="0.7" rx="0"/>
<rect x="601.50" y="41.70" width="1.50" height="0.80" fill="#bbb" opacity="0.6" rx="0"/>
<rect x="612.50" y="41.60" width="1.80" height="1.20" fill="#3cc1a0" opacity="0.8" rx="0"/>
<rect x="534.30" y="46.20" width="15.20" height="17.20" fill="#fafbfd" stroke="#e6e9f0" stroke-width="0.5" rx="0.6"/>
<rect x="535.30" y="48.00" width="2.50" height="0.90" fill="#aaa" opacity="0.7" rx="0"/>
<rect x="538.30" y="48.00" width="1.20" height="1.00" fill="#4a90e0" opacity="0.8" rx="0"/>
<rect x="535.80" y="50.60" width="12.20" height="2.60" fill="#e7eaf2" opacity="1" rx="0"/>
<rect x="538.80" y="51.40" width="6.20" height="1.00" fill="#555" opacity="0.7" rx="0"/>
<rect x="535.30" y="55.00" width="3.00" height="0.70" fill="#bbb" opacity="0.6" rx="0"/>
<rect x="543.80" y="55.00" width="3.80" height="0.90" fill="#555" opacity="0.7" rx="0"/>
<rect x="535.30" y="57.70" width="3.00" height="0.70" fill="#bbb" opacity="0.6" rx="0"/>
<rect x="543.80" y="57.90" width="3.80" height="0.90" fill="#555" opacity="0.7" rx="0"/>
<rect x="535.30" y="61.80" width="1.50" height="0.80" fill="#bbb" opacity="0.6" rx="0"/>
<rect x="546.30" y="61.70" width="1.80" height="1.20" fill="#3cc1a0" opacity="0.8" rx="0"/>
<rect x="551.20" y="46.20" width="15.20" height="17.20" fill="#fafbfd" stroke="#e6e9f0" stroke-width="0.5" rx="0.6"/>
<rect x="552.20" y="48.00" width="2.50" height="0.90" fill="#aaa" opacity="0.7" rx="0"/>
<rect x="555.20" y="48.00" width="1.20" height="1.00" fill="#4a90e0" opacity="0.8" rx="0"/>
<rect x="552.70" y="50.60" width="12.20" height="2.60" fill="#e7eaf2" opacity="1" rx="0"/>
<rect x="555.70" y="51.40" width="6.20" height="1.00" fill="#555" opacity="0.7" rx="0"/>
<rect x="552.20" y="55.00" width="3.00" height="0.70" fill="#bbb" opacity="0.6" rx="0"/>
<rect x="560.70" y="55.00" width="3.80" height="0.90" fill="#555" opacity="0.7" rx="0"/>
<rect x="552.20" y="57.70" width="3.00" height="0.70" fill="#bbb" opacity="0.6" rx="0"/>
<rect x="560.70" y="57.90" width="3.80" height="0.90" fill="#555" opacity="0.7" rx="0"/>
<rect x="552.20" y="61.80" width="1.50" height="0.80" fill="#bbb" opacity="0.6" rx="0"/>
<rect x="563.20" y="61.70" width="1.80" height="1.20" fill="#3cc1a0" opacity="0.8" rx="0"/>
<rect x="567.70" y="46.20" width="15.20" height="17.20" fill="#fafbfd" stroke="#e6e9f0" stroke-width="0.5" rx="0.6"/>
<rect x="568.70" y="48.00" width="2.50" height="0.90" fill="#aaa" opacity="0.7" rx="0"/>
<rect x="571.70" y="48.00" width="1.20" height="1.00" fill="#4a90e0" opacity="0.8" rx="0"/>
<rect x="569.20" y="50.60" width="12.20" height="2.60" fill="#e7eaf2" opacity="1" rx="0"/>
<rect x="572.20" y="51.40" width="6.20" height="1.00" fill="#555" opacity="0.7" rx="0"/>
<rect x="568.70" y="55.00" width="3.00" height="0.70" fill="#bbb" opacity="0.6" rx="0"/>
<rect x="577.20" y="55.00" width="3.80" height="0.90" fill="#555" opacity="0.7" rx="0"/>
<rect x="568.70" y="57.70" width="3.00" height="0.70" fill="#bbb" opacity="0.6" rx="0"/>
<rect x="577.20" y="57.90" width="3.80" height="0.90" fill="#555" opacity="0.7" rx="0"/>
<rect x="568.70" y="61.80" width="1.50" height="0.80" fill="#bbb" opacity="0.6" rx="0"/>
<rect x="579.70" y="61.70" width="1.80" height="1.20" fill="#3cc1a0" opacity="0.8" rx="0"/>
<rect x="584.00" y="46.20" width="15.20" height="17.20" fill="#fafbfd" stroke="#e6e9f0" stroke-width="0.5" rx="0.6"/>
<rect x="585.00" y="48.00" width="2.50" height="0.90" fill="#aaa" opacity="0.7" rx="0"/>
<rect x="588.00" y="48.00" width="1.20" height="1.00" fill="#4a90e0" opacity="0.8" rx="0"/>
<rect x="585.50" y="50.60" width="12.20" height="2.60" fill="#e7eaf2" opacity="1" rx="0"/>
<rect x="588.50" y="51.40" width="6.20" height="1.00" fill="#555" opacity="0.7" rx="0"/>
<rect x="585.00" y="55.00" width="3.00" height="0.70" fill="#bbb" opacity="0.6" rx="0"/>
<rect x="593.50" y="55.00" width="3.80" height="0.90" fill="#555" opacity="0.7" rx="0"/>
<rect x="585.00" y="57.70" width="3.00" height="0.70" fill="#bbb" opacity="0.6" rx="0"/>
<rect x="593.50" y="57.90" width="3.80" height="0.90" fill="#555" opacity="0.7" rx="0"/>
<rect x="585.00" y="61.80" width="1.50" height="0.80" fill="#bbb" opacity="0.6" rx="0"/>
<rect x="596.00" y="61.70" width="1.80" height="1.20" fill="#3cc1a0" opacity="0.8" rx="0"/>
<rect x="600.50" y="46.20" width="15.20" height="17.20" fill="#fafbfd" stroke="#e6e9f0" stroke-width="0.5" rx="0.6"/>
<rect x="601.50" y="48.00" width="2.50" height="0.90" fill="#aaa" opacity="0.7" rx="0"/>
<rect x="604.50" y="48.00" width="1.20" height="1.00" fill="#4a90e0" opacity="0.8" rx="0"/>
<rect x="602.00" y="50.60" width="12.20" height="2.60" fill="#e7eaf2" opacity="1" rx="0"/>
<rect x="605.00" y="51.40" width="6.20" height="1.00" fill="#555" opacity="0.7" rx="0"/>
<rect x="601.50" y="55.00" width="3.00" height="0.70" fill="#bbb" opacity="0.6" rx="0"/>
<rect x="610.00" y="55.00" width="3.80" height="0.90" fill="#555" opacity="0.7" rx="0"/>
<rect x="601.50" y="57.70" width="3.00" height="0.70" fill="#bbb" opacity="0.6" rx="0"/>
<rect x="610.00" y="57.90" width="3.80" height="0.90" fill="#555" opacity="0.7" rx="0"/>
<rect x="601.50" y="61.80" width="1.50" height="0.80" fill="#bbb" opacity="0.6" rx="0"/>
<rect x="612.50" y="61.70" width="1.80" height="1.20" fill="#3cc1a0" opacity="0.8" rx="0"/>
<rect x="535.40" y="66.30" width="3.50" height="0.90" fill="#888" opacity="0.7" rx="0"/>
<rect x="540.00" y="66.30" width="2.50" height="0.90" fill="#888" opacity="0.7" rx="0"/>
<rect x="594.50" y="66.20" width="1.00" height="1.00" fill="#6ac" opacity="0.7" rx="0"/>
<rect x="597.00" y="66.20" width="1.00" height="1.00" fill="#bbb" opacity="0.7" rx="0"/>
<rect x="601.00" y="66.20" width="1.00" height="1.00" fill="#bbb" opacity="0.7" rx="0"/>
<rect x="604.50" y="66.20" width="1.00" height="1.00" fill="#bbb" opacity="0.7" rx="0"/>
<rect x="607.00" y="66.20" width="1.00" height="1.00" fill="#bbb" opacity="0.7" rx="0"/>
<rect x="610.00" y="66.20" width="1.00" height="1.00" fill="#bbb" opacity="0.7" rx="0"/>
<rect x="612.00" y="66.20" width="1.00" height="1.00" fill="#bbb" opacity="0.7" rx="0"/>
</svg>

<div class="t cw" style="left:25.5px;top:49px;letter-spacing:0.8px">服务层</div>
<div class="t cw" style="left:27px;top:177.5px;line-height:20.5px;width:54px;letter-spacing:0.6px">数据<br>管理层</div>
<div class="t cw" style="left:22.5px;top:337px;letter-spacing:0.8px">感知层</div>
<div class="t bx" style="left:327px;top:118px;letter-spacing:6px">服务器</div>
<div class="t bx" style="left:317px;top:274px;letter-spacing:5.4px">传输表类</div>
<div class="t lbl" style="left:140px;top:86px;letter-spacing:1.2px">云平台</div>
<div class="t lbl" style="left:269px;top:84px;letter-spacing:0.3px">PC端</div>
<div class="t lbl" style="left:366px;top:83px;letter-spacing:0.9px">微信/支付宝</div>
<div class="t lbl" style="left:504px;top:83px;letter-spacing:0.6px">包租婆系统平台</div>
<div class="t lbl" style="left:406px;top:199px">智能手机（开蓝牙）</div>
<div class="t lbl" style="left:195px;top:391px">蓝牙水表</div>
<div class="t lbl" style="left:472px;top:391px">蓝牙电表</div>
</body></html>
